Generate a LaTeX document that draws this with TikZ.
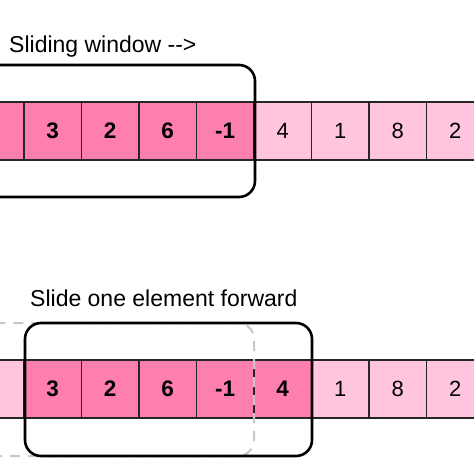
\documentclass[tikz,border=0pt]{standalone}
\usepackage{fontspec}
\setmainfont{Liberation Sans}
\usetikzlibrary{positioning}

\definecolor{hotcell}{RGB}{255,126,176}
\definecolor{palecell}{RGB}{255,197,222}

\tikzset{
  cell/.style={draw=black!85, line width=1.6pt, minimum width=57.5pt, minimum height=57.5pt,
    inner sep=0pt, outer sep=0pt, font=\fontsize{22}{26}\selectfont},
  incell/.style={cell, fill=hotcell, font=\fontsize{22.5}{26}\selectfont\bfseries},
  outcell/.style={cell, fill=palecell},
  window/.style={draw=black, line width=2.6pt, rounded corners=16pt},
  oldwindow/.style={draw=black!22, line width=2pt, dash pattern=on 10pt off 8pt, rounded corners=16pt},
  caption/.style={anchor=base west, inner sep=0pt, font=\fontsize{23}{27}\selectfont}
}

\begin{document}
\begin{tikzpicture}[x=1pt, y=-1pt]
    \useasboundingbox (0,0) rectangle (474,474);

    % first step
    \node[caption] (toptitle) at (9,52) {Sliding window -{}->};
    \node[incell] (t1) at (52.75,131) {3};
    \node[incell, left=0pt of t1] (t0) {};
    \node[incell, right=0pt of t1] (t2) {2};
    \node[incell, right=0pt of t2] (t3) {6};
    \node[incell, right=0pt of t3] (t4) {-1};
    \node[outcell, right=0pt of t4] (t5) {4};
    \node[outcell, right=0pt of t5] (t6) {1};
    \node[outcell, right=0pt of t6] (t7) {8};
    \node[outcell, right=0pt of t7] (t8) {2};
    \draw[window] (-60,65) rectangle (255,197);

    % second step
    \node[caption] (bottomtitle) at (30,306) {Slide one element forward};
    \node[incell] (b1) at (52.75,389) {3};
    \node[outcell, left=0pt of b1] (b0) {};
    \node[incell, right=0pt of b1] (b2) {2};
    \node[incell, right=0pt of b2] (b3) {6};
    \node[incell, right=0pt of b3] (b4) {-1};
    \node[incell, right=0pt of b4] (b5) {4};
    \node[outcell, right=0pt of b5] (b6) {1};
    \node[outcell, right=0pt of b6] (b7) {8};
    \node[outcell, right=0pt of b7] (b8) {2};
    \draw[oldwindow] (-60,323) rectangle (254,456);
    \draw[window] (25,323) rectangle (312,456);
\end{tikzpicture}
\end{document}
